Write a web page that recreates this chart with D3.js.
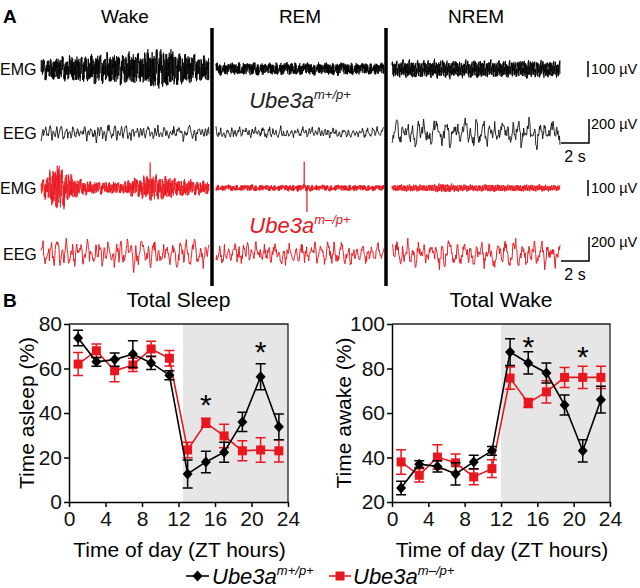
<!DOCTYPE html>
<html>
<head>
<meta charset="utf-8">
<script src="https://cdn.jsdelivr.net/npm/d3@7"></script>
<style>
  body { margin: 0; background: #fff; }
  svg { font-family: "Liberation Sans", Arial, sans-serif; }
</style>
</head>
<body>
<div id="graphicContainer"></div>
<script>

// ---- panel B data ----
var hours = [1, 3, 5, 7, 9, 11, 13, 15, 17, 19, 21, 23]

var sleepWT = [73.7, 63, 64, 66.5, 62.5, 57, 12.6, 18, 22.4, 36, 56.3, 33.8]
var sleepWTerr = [3.5, 2, 3, 6, 3, 2, 6.3, 4.8, 4.5, 4.3, 5.8, 5.8]
var sleepKO = [62, 68, 59, 61.6, 68.8, 64.6, 23.4, 35.6, 29.7, 23, 23.4, 23]
var sleepKOerr = [5.2, 3, 5, 3, 3.5, 3.5, 3.5, 2, 5.3, 4.5, 5.5, 5]

var wakeWT = [26.3, 37, 36, 32.6, 38, 43, 87.4, 82.5, 78, 63.6, 43, 66]
var wakeWTerr = [3, 1.5, 2.5, 5, 3, 2, 6, 5, 4.5, 4.5, 5, 6]
var wakeKO = [38, 32, 40.2, 37.6, 31.3, 35, 75.7, 64.5, 69.5, 76, 76, 76]
var wakeKOerr = [5.5, 3, 5.5, 4, 3.5, 4, 5, 2, 5, 4.5, 5, 5]

var xTicks = [0, 4, 8, 12, 16, 20, 24]
var sleepTicks = [0, 20, 40, 60, 80]
var wakeTicks = [20, 40, 60, 80, 100]

// significance marks: [hour, value]
var sleepStars = [[15, 45.8], [21, 69.7]]
var wakeStars = [[15, 91.9], [21, 87.4]]

// ---- panel A data ----
var stages = ["Wake", "REM", "NREM"]
var segSeconds = 12

// hand typed noise pattern, reused for every trace
var noise = [3,-7,5,-2,8,-9,1,6,-4,-8,7,2,-5,9,-3,-6,4,10,-7,0,5,-9,3,-1,7,-6,2,8,-10,4,-3,6,-8,1,9,-5,-2,7,-4,3,-9,6,0,-7,8,-3,5,-6,2,9,-8,4,-1,7,-5,3,-10,6,-2,8,-4,1,-7,5,9,-3,-6,2,7,-9,4,-1,6,-8,3,10,-5,2,-7,8,-4,0,5,-9,6,-2,7,-6,1,9,-3,4,-8,5,-1,8,-7,3,-5,10,-4,2,-9,6,-3,7,-6,1,8,-2,4,-10,5,-7,3,9,-1,-5,6,-8,2,7,-4]

// amplitude envelopes in µV, one list per stage
var emgWTenv = [[60, 70, 80, 85, 90, 95, 100, 125, 110, 85, 75], [36, 38, 40, 36, 40, 38, 36, 40, 38, 36, 38], [50, 55, 52, 56, 50, 55, 52, 50, 56, 52, 50]]
var eegWTenv = [[60, 65, 70, 75, 70, 65, 60, 62, 70, 60, 65], [50, 48, 52, 55, 50, 48, 52, 50, 48, 52, 50], [110, 125, 120, 130, 125, 135, 120, 125, 140, 130, 120]]
var emgKOenv = [[40, 150, 60, 38, 36, 40, 70, 80, 60, 45, 40], [18, 18, 20, 18, 18, 22, 18, 18, 20, 18, 18], [20, 22, 20, 28, 22, 20, 24, 20, 22, 20, 18]]
var eegKOenv = [[120, 130, 125, 115, 120, 125, 130, 120, 125, 115, 110], [100, 105, 110, 100, 95, 105, 110, 100, 105, 95, 90], [125, 130, 120, 135, 125, 130, 120, 125, 135, 120, 115]]

// spikes: [stage, time (s), µV]
var emgKOspikes = [[0, 7.8, 160], [1, 6.3, 165], [1, 6.5, -150]]

function init() {

	var width = 640
	var height = 588

	var svg = d3.select("#graphicContainer").append("svg")
		.attr("width", width)
		.attr("height", height)

	var red = "#e8161e"
	var dark = "#111"

	// ---------------- panel A ----------------

	var segStart = [41, 216, 392]
	var segWidth = 168
	var sepX = [212, 386]

	svg.append("text").attr("x", 3).attr("y", 23)
		.style("font-size", "19px").style("font-weight", "bold").text("A")

	var stageX = [125, 300, 476]
	stages.forEach(function(s, i) {
		svg.append("text").attr("x", stageX[i]).attr("y", 23)
			.attr("text-anchor", "middle").style("font-size", "19px").text(s)
	})

	var emgY = d3.scaleLinear().domain([-100, 100]).range([16, -16])
	var eegY = d3.scaleLinear().domain([-200, 200]).range([24, -24])

	// slow part walks the noise list in steps, fast part jumps through it
	function traceData(env, n, r, ws, stride, off, spikes, stage) {
		var pts = []
		var N = noise.length
		for (var i = 0; i < n; i++) {
			var f = i / (n - 1)
			var pos = f * (env.length - 1)
			var k = Math.min(Math.floor(pos), env.length - 2)
			var a = env[k] + (env[k + 1] - env[k]) * (pos - k)
			var j = Math.floor(i / r), fr = (i % r) / r
			var slow = noise[(j + off) % N] * (1 - fr) + noise[(j + 1 + off) % N] * fr
			var fast = noise[(i * stride + off) % N]
			var v = (ws * slow + (1 - ws) * fast) / 10 * a * 1.25
			pts.push([f * segSeconds, v])
		}
		if (spikes) {
			spikes.filter(d => d[0] === stage).forEach(function(d) {
				var idx = Math.round(d[1] / segSeconds * (n - 1))
				pts[idx] = [pts[idx][0], d[2]]
			})
		}
		return pts
	}

	function drawRow(r) {
		r.env.forEach(function(env, s) {
			var x = d3.scaleLinear().domain([0, segSeconds]).range([segStart[s], segStart[s] + segWidth])
			var line = d3.line().x(d => x(d[0])).y(d => r.y + r.scale(d[1]))
			svg.append("path")
				.datum(traceData(env, r.n, r.step[s], r.ws, 7 + s * 4, r.seed + s * 13, r.spikes, s))
				.attr("d", line)
				.attr("fill", "none")
				.attr("stroke", r.color)
				.attr("stroke-width", r.lw)
				.attr("stroke-linejoin", "bevel")
		})
	}

	var rows = [
		{label: "EMG", y: 69, env: emgWTenv, scale: emgY, n: 1100, step: [14, 14, 14], ws: 0.25, color: "#000", lw: 0.8, seed: 3},
		{label: "EEG", y: 133, env: eegWTenv, scale: eegY, n: 320, step: [3, 3, 5], ws: 0.7, color: dark, lw: 0.9, seed: 21},
		{label: "EMG", y: 188, env: emgKOenv, scale: emgY, n: 1100, step: [14, 14, 14], ws: 0.25, color: red, lw: 0.75, seed: 45, spikes: emgKOspikes},
		{label: "EEG", y: 254, env: eegKOenv, scale: eegY, n: 320, step: [4, 4, 5], ws: 0.7, color: red, lw: 0.95, seed: 67}
	]

	rows.forEach(function(r) {
		svg.append("text").attr("x", r.label === "EMG" ? 0 : 3).attr("y", r.y + 6)
			.style("font-size", "16px").text(r.label)
		drawRow(r)
	})

	// separators
	sepX.forEach(function(x) {
		svg.append("line").attr("x1", x).attr("x2", x).attr("y1", 28).attr("y2", 286)
			.attr("stroke", "#000").attr("stroke-width", 3.5)
	})

	// genotype labels
	function genoLabel(g, x, y, sup, color, size, supSize) {
		var t = g.append("text").attr("x", x).attr("y", y)
			.attr("text-anchor", "middle")
			.style("font-size", size + "px").style("font-style", "italic").attr("fill", color)
		t.append("tspan").text("Ube3a")
		t.append("tspan").attr("dy", -size * 0.4).style("font-size", supSize + "px").text(sup)
		return t
	}
	genoLabel(svg, 300, 108, "m+/p+", "#222", 22, 13)
	genoLabel(svg, 300, 233, "m\u2013/p+", red, 22, 13)

	// scale bars
	;[69, 188].forEach(function(cy) {
		svg.append("line").attr("x1", 588).attr("x2", 588).attr("y1", cy + emgY(50)).attr("y2", cy + emgY(-50))
			.attr("stroke", "#000").attr("stroke-width", 1.5)
		svg.append("text").attr("x", 591).attr("y", cy + 5).style("font-size", "14.5px").text("100 µV")
	})
	;[143, 261].forEach(function(by) {
		var top = by + eegY(200) - eegY(0)
		svg.append("path")
			.attr("d", "M561," + by + "H589V" + top)
			.attr("fill", "none").attr("stroke", "#000").attr("stroke-width", 1.5)
		svg.append("text").attr("x", 591).attr("y", top + 10).style("font-size", "14.5px").text("200 µV")
		svg.append("text").attr("x", 575).attr("y", by + 19).attr("text-anchor", "middle")
			.style("font-size", "16px").text("2 s")
	})

	// ---------------- panel B ----------------

	svg.append("text").attr("x", 3).attr("y", 307)
		.style("font-size", "19px").style("font-weight", "bold").text("B")

	function drawChart(opt) {
		var x = d3.scaleLinear().domain([0, 24]).range([opt.left, opt.right])
		var y = d3.scaleLinear().domain(opt.yDomain).range([502, 324])
		var g = svg.append("g")

		g.append("rect")
			.attr("x", x(opt.shade)).attr("y", y(opt.yDomain[1]))
			.attr("width", x(24) - x(opt.shade)).attr("height", y(opt.yDomain[0]) - y(opt.yDomain[1]))
			.attr("fill", "#e6e6e6")

		// frame
		g.append("path")
			.attr("d", "M" + x(0) + "," + y(opt.yDomain[1]) + "H" + x(24) + "V" + y(opt.yDomain[0]))
			.attr("fill", "none").attr("stroke", "#222").attr("stroke-width", 1.3)

		var xAxis = g.append("g").attr("transform", "translate(0," + y(opt.yDomain[0]) + ")")
			.call(d3.axisBottom(x).tickValues(xTicks).tickSize(5).tickPadding(4).tickSizeOuter(0))
		var yAxis = g.append("g").attr("transform", "translate(" + x(0) + ",0)")
			.call(d3.axisLeft(y).tickValues(opt.yTicks).tickSize(5).tickPadding(2).tickSizeOuter(0))
		;[xAxis, yAxis].forEach(function(a) {
			a.select(".domain").attr("stroke", "#000").attr("stroke-width", 1.5)
			a.selectAll(".tick line").attr("stroke", "#000").attr("stroke-width", 1.5)
			a.selectAll(".tick text").attr("fill", "#111").style("font-size", "21px")
				.style("font-family", "Liberation Sans, Arial, sans-serif")
		})

		g.append("text").attr("x", (opt.left + opt.right) / 2).attr("y", 307)
			.attr("text-anchor", "middle").style("font-size", "21px").text(opt.title)

		g.append("text").attr("x", (opt.left + opt.right) / 2 + 1).attr("y", 557)
			.attr("text-anchor", "middle").style("font-size", "21px").text("Time of day (ZT hours)")

		g.append("text")
			.attr("transform", "translate(" + opt.yTitleX + ",413) rotate(-90)")
			.attr("text-anchor", "middle").style("font-size", "21px").text(opt.yTitle)

		var series = [
			{vals: opt.ko, err: opt.koErr, color: red, shape: "square"},
			{vals: opt.wt, err: opt.wtErr, color: "#000", shape: "diamond"}
		]

		series.forEach(function(s) {
			var data = hours.map((h, i) => ({h: h, v: s.vals[i], e: s.err[i]}))
			var sg = g.append("g")

			sg.selectAll(".eb").data(data).enter().append("path")
				.attr("d", d => "M" + x(d.h) + "," + y(d.v - d.e) + "V" + y(d.v + d.e)
					+ "M" + (x(d.h) - 5) + "," + y(d.v - d.e) + "h10"
					+ "M" + (x(d.h) - 5) + "," + y(d.v + d.e) + "h10")
				.attr("stroke", s.color).attr("stroke-width", 1.5).attr("fill", "none")

			sg.append("path").datum(data)
				.attr("d", d3.line().x(d => x(d.h)).y(d => y(d.v)))
				.attr("fill", "none").attr("stroke", s.color).attr("stroke-width", 1.6)

			if (s.shape === "square") {
				sg.selectAll(".mk").data(data).enter().append("rect")
					.attr("x", d => x(d.h) - 4.5).attr("y", d => y(d.v) - 4.5)
					.attr("width", 9).attr("height", 9).attr("fill", s.color)
			} else {
				sg.selectAll(".mk").data(data).enter().append("path")
					.attr("d", d => "M" + x(d.h) + "," + (y(d.v) - 5.5) + "l5,5.5l-5,5.5l-5,-5.5z")
					.attr("fill", s.color)
			}
		})

		opt.stars.forEach(function(st) {
			g.append("text").attr("x", x(st[0])).attr("y", y(st[1]) + 15)
				.attr("text-anchor", "middle").style("font-size", "30px")
				.text("*")
		})
	}

	drawChart({left: 69, right: 288, yDomain: [0, 80], yTicks: sleepTicks, shade: 12.5,
		title: "Total Sleep", yTitle: "Time asleep (%)", yTitleX: 34,
		wt: sleepWT, wtErr: sleepWTerr, ko: sleepKO, koErr: sleepKOerr, stars: sleepStars})

	drawChart({left: 392, right: 610, yDomain: [20, 100], yTicks: wakeTicks, shade: 12,
		title: "Total Wake", yTitle: "Time awake (%)", yTitleX: 351,
		wt: wakeWT, wtErr: wakeWTerr, ko: wakeKO, koErr: wakeKOerr, stars: wakeStars})

	// legend
	var lg = svg.append("g")
	lg.append("line").attr("x1", 186).attr("x2", 209).attr("y1", 576).attr("y2", 576)
		.attr("stroke", "#000").attr("stroke-width", 1.6)
	lg.append("path").attr("d", "M197.5,570.5l5,5.5l-5,5.5l-5,-5.5z").attr("fill", "#000")
	genoLabel(lg, 212, 584, "m+/p+", "#000", 22, 13).attr("text-anchor", "start")
	lg.append("line").attr("x1", 329).attr("x2", 351).attr("y1", 576).attr("y2", 576)
		.attr("stroke", red).attr("stroke-width", 1.6)
	lg.append("rect").attr("x", 335.5).attr("y", 571.5).attr("width", 9).attr("height", 9).attr("fill", red)
	genoLabel(lg, 353, 584, "m\u2013/p+", "#000", 22, 13).attr("text-anchor", "start")

}

init()
</script>
</body>
</html>
